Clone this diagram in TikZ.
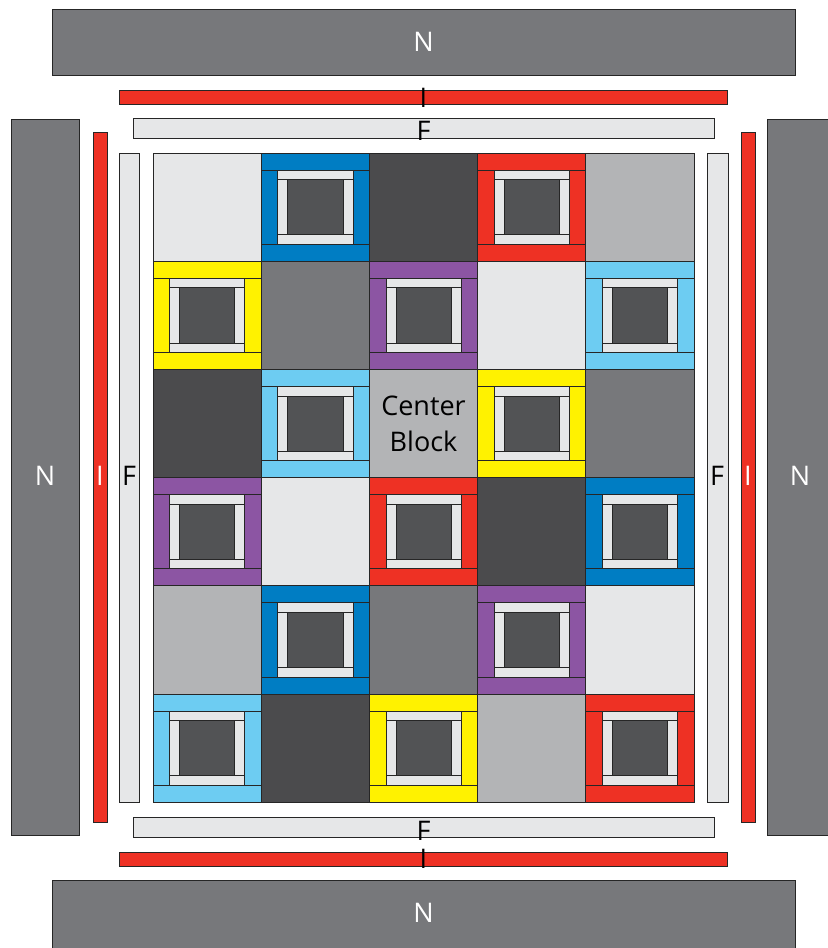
\documentclass[tikz,border=0pt]{standalone}
\usepackage{fontspec}
\setmainfont{Open Sans}
\definecolor{qblue}{HTML}{007DC3}
\definecolor{qred}{HTML}{EE3124}
\definecolor{qyellow}{HTML}{FFF200}
\definecolor{qpurple}{HTML}{8C55A3}
\definecolor{qsky}{HTML}{6DCCF2}
\definecolor{qdark}{HTML}{4B4B4D}
\definecolor{qinner}{HTML}{525355}
\definecolor{qmid}{HTML}{77787B}
\definecolor{qlight}{HTML}{E6E7E8}
\definecolor{qsilver}{HTML}{B3B4B6}
\tikzset{
  piece/.style={draw=black!85, line width=0.8bp},
  lbl/.style={font=\fontsize{27bp}{36bp}\selectfont, inner sep=0pt},
}
\newcommand\framedblock[3]{%
 \begin{scope}[shift={({153+#1*108.2},{153+#2*108.2})}]
  \filldraw[piece, fill=#3] (0,0) rectangle (108.2,17);
  \filldraw[piece, fill=#3] (0,91.2) rectangle (108.2,108.2);
  \filldraw[piece, fill=#3] (0,17) rectangle (16.5,91.2);
  \filldraw[piece, fill=#3] (91.7,17) rectangle (108.2,91.2);
  \filldraw[piece, fill=qlight] (16.5,17) rectangle (91.7,26.5);
  \filldraw[piece, fill=qlight] (16.5,81.7) rectangle (91.7,91.2);
  \filldraw[piece, fill=qlight] (16.5,26.5) rectangle (26.5,81.7);
  \filldraw[piece, fill=qlight] (81.7,26.5) rectangle (91.7,81.7);
  \filldraw[piece, fill=qinner] (26.5,26.5) rectangle (81.7,81.7);
 \end{scope}}
\newcommand\plainblock[3]{%
  \filldraw[piece, fill=#3] ({153+#1*108.2},{153+#2*108.2}) rectangle +(108.2,108.2);}
\begin{document}
\begin{tikzpicture}[x=1bp, y=-1bp]
\useasboundingbox (0,0) rectangle (828,948);
\fill[white] (0,0) rectangle (828,948);
% borders
\filldraw[piece, fill=qmid] (52,9) rectangle (795,75);
\filldraw[piece, fill=qred] (119,90) rectangle (727,104);
\filldraw[piece, fill=qlight] (133,118) rectangle (714,138);
\filldraw[piece, fill=qlight] (133,817) rectangle (714,837);
\filldraw[piece, fill=qred] (119,852) rectangle (727,866);
\filldraw[piece, fill=qmid] (52,880) rectangle (795,952);
\filldraw[piece, fill=qmid] (11,119) rectangle (79,835);
\filldraw[piece, fill=qred] (93,132) rectangle (107,822);
\filldraw[piece, fill=qlight] (119,153) rectangle (139,802);
\filldraw[piece, fill=qlight] (707,153) rectangle (728,802);
\filldraw[piece, fill=qred] (741,132) rectangle (755,822);
\filldraw[piece, fill=qmid] (767,119) rectangle (835,835);
% row 0
\plainblock{0}{0}{qlight}
\framedblock{1}{0}{qblue}
\plainblock{2}{0}{qdark}
\framedblock{3}{0}{qred}
\plainblock{4}{0}{qsilver}
% row 1
\framedblock{0}{1}{qyellow}
\plainblock{1}{1}{qmid}
\framedblock{2}{1}{qpurple}
\plainblock{3}{1}{qlight}
\framedblock{4}{1}{qsky}
% row 2
\plainblock{0}{2}{qdark}
\framedblock{1}{2}{qsky}
\plainblock{2}{2}{qsilver}
\framedblock{3}{2}{qyellow}
\plainblock{4}{2}{qmid}
% row 3
\framedblock{0}{3}{qpurple}
\plainblock{1}{3}{qlight}
\framedblock{2}{3}{qred}
\plainblock{3}{3}{qdark}
\framedblock{4}{3}{qblue}
% row 4
\plainblock{0}{4}{qsilver}
\framedblock{1}{4}{qblue}
\plainblock{2}{4}{qmid}
\framedblock{3}{4}{qpurple}
\plainblock{4}{4}{qlight}
% row 5
\framedblock{0}{5}{qsky}
\plainblock{1}{5}{qdark}
\framedblock{2}{5}{qyellow}
\plainblock{3}{5}{qsilver}
\framedblock{4}{5}{qred}
% labels
\node[lbl, text=white] (ntop) at (423.5,42) {N};
\node[lbl] (itop) at (423.5,98) {I};
\node[lbl] (ftop) at (423.5,131) {F};
\node[lbl] (fbot) at (423.5,831) {F};
\node[lbl] (ibot) at (423.5,859) {I};
\node[lbl, text=white] (nbot) at (423.5,913) {N};
\node[lbl, text=white] (nleft) at (45,476) {N};
\node[lbl, text=white] (ileft) at (100,476) {I};
\node[lbl] (fleft) at (129,476) {F};
\node[lbl] (fright) at (717,476) {F};
\node[lbl, text=white] (iright) at (748,476) {I};
\node[lbl, text=white] (nright) at (800,476) {N};
\node[lbl, align=center] (center) at (423.5,424) {Center\\Block};
\end{tikzpicture}
\end{document}
